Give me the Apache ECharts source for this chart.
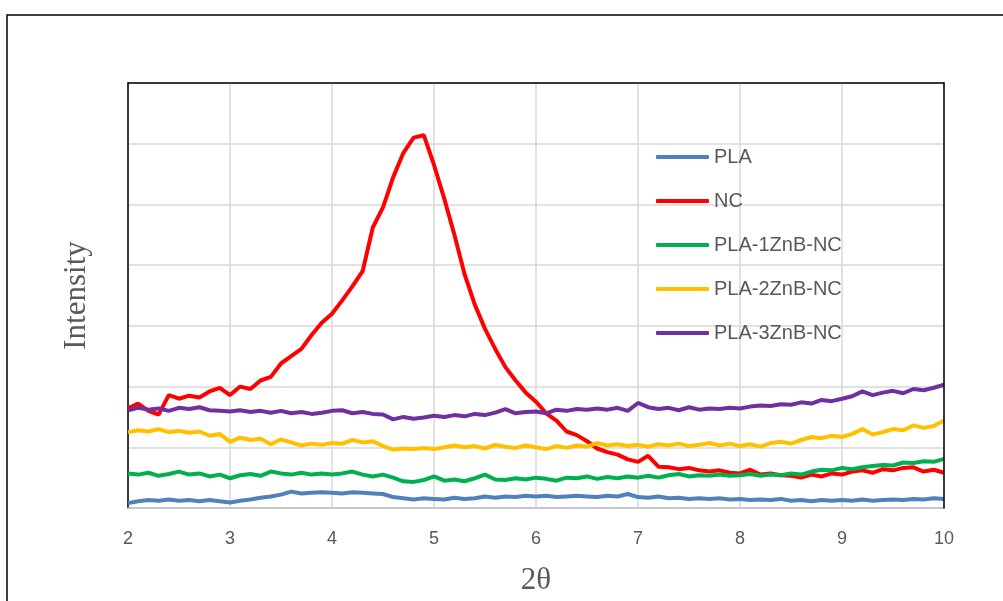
<!DOCTYPE html>
<html>
<head>
<meta charset="utf-8">
<script src="https://cdn.jsdelivr.net/npm/echarts@6/dist/echarts.min.js"></script>
<style>
  html, body { margin: 0; padding: 0; background: #fff; }
  #chart { width: 1003px; height: 601px; }
</style>
</head>
<body>
<div id="chart"></div>
<script>
// sampling grid for 2θ (2.0 .. 10.0, step 0.1)
const twoTheta = Array.from({ length: 81 }, (_, i) => +(2 + i * 0.1).toFixed(1));

const xTicks = [2, 3, 4, 5, 6, 7, 8, 9, 10];
const seriesNames = ['PLA', 'NC', 'PLA-1ZnB-NC', 'PLA-2ZnB-NC', 'PLA-3ZnB-NC'];
const seriesColors = ['#4f81bd', '#ff0000', '#00b050', '#ffc000', '#7030a0'];

// intensities (grid units)
const pla = [
  0.08, 0.11, 0.13, 0.12, 0.14, 0.12, 0.13, 0.11, 0.13, 0.11,
  0.09, 0.12, 0.14, 0.17, 0.19, 0.22, 0.27, 0.24, 0.25, 0.26,
  0.25, 0.24, 0.26, 0.25, 0.24, 0.23, 0.18, 0.16, 0.14, 0.16,
  0.15, 0.14, 0.17, 0.15, 0.16, 0.19, 0.17, 0.19, 0.18, 0.20,
  0.19, 0.20, 0.18, 0.19, 0.20, 0.19, 0.18, 0.20, 0.19, 0.23,
  0.18, 0.17, 0.19, 0.16, 0.17, 0.15, 0.16, 0.15, 0.16, 0.14,
  0.15, 0.13, 0.14, 0.13, 0.15, 0.12, 0.13, 0.11, 0.13, 0.12,
  0.13, 0.12, 0.14, 0.12, 0.13, 0.14, 0.13, 0.15, 0.14, 0.16,
  0.15
];
const nc = [
  1.64, 1.72, 1.60, 1.54, 1.86, 1.80, 1.85, 1.82, 1.92, 1.98,
  1.86, 2.00, 1.96, 2.10, 2.16, 2.38, 2.50, 2.62, 2.85, 3.05,
  3.20, 3.42, 3.65, 3.90, 4.62, 4.95, 5.45, 5.85, 6.10, 6.14,
  5.65, 5.10, 4.50, 3.85, 3.35, 2.95, 2.62, 2.32, 2.10, 1.90,
  1.75, 1.56, 1.44, 1.26, 1.20, 1.10, 0.98, 0.92, 0.88, 0.80,
  0.76, 0.86, 0.68, 0.67, 0.64, 0.66, 0.62, 0.60, 0.62, 0.58,
  0.57, 0.63, 0.55, 0.57, 0.54, 0.53, 0.50, 0.55, 0.52, 0.57,
  0.55, 0.60, 0.62, 0.58, 0.64, 0.62, 0.66, 0.67, 0.60, 0.63,
  0.58
];
const pla1 = [
  0.57, 0.55, 0.58, 0.53, 0.56, 0.60, 0.55, 0.57, 0.52, 0.55,
  0.49, 0.54, 0.56, 0.53, 0.60, 0.57, 0.55, 0.58, 0.55, 0.57,
  0.55, 0.57, 0.60, 0.55, 0.52, 0.55, 0.50, 0.44, 0.43, 0.46,
  0.52, 0.45, 0.47, 0.44, 0.49, 0.55, 0.47, 0.46, 0.49, 0.47,
  0.50, 0.48, 0.45, 0.50, 0.49, 0.52, 0.48, 0.51, 0.49, 0.52,
  0.50, 0.53, 0.50, 0.54, 0.56, 0.52, 0.54, 0.53, 0.55, 0.53,
  0.54, 0.56, 0.53, 0.55, 0.54, 0.57, 0.55, 0.60, 0.63, 0.62,
  0.66, 0.64, 0.67, 0.69, 0.71, 0.70, 0.75, 0.74, 0.77, 0.76,
  0.81
];
const pla2 = [
  1.25, 1.28, 1.26, 1.30, 1.25, 1.27, 1.24, 1.26, 1.19, 1.22,
  1.09, 1.16, 1.12, 1.14, 1.05, 1.13, 1.08, 1.03, 1.06, 1.04,
  1.07, 1.06, 1.12, 1.08, 1.10, 1.02, 0.96, 0.98, 0.97, 0.99,
  0.97, 1.00, 1.03, 1.00, 1.02, 0.98, 1.04, 1.01, 0.99, 1.03,
  1.00, 0.97, 1.02, 0.99, 1.03, 1.01, 1.07, 1.03, 1.05, 1.02,
  1.04, 1.01, 1.05, 1.03, 1.06, 1.02, 1.04, 1.07, 1.03, 1.06,
  1.02, 1.05, 1.01, 1.07, 1.09, 1.06, 1.12, 1.17, 1.15, 1.19,
  1.17, 1.22, 1.30, 1.21, 1.25, 1.30, 1.28, 1.36, 1.32, 1.35,
  1.44
];
const pla3 = [
  1.61, 1.65, 1.62, 1.64, 1.60, 1.65, 1.63, 1.66, 1.61, 1.60,
  1.59, 1.61, 1.58, 1.60, 1.57, 1.60, 1.56, 1.58, 1.55, 1.57,
  1.60, 1.61, 1.56, 1.58, 1.55, 1.54, 1.46, 1.50, 1.47, 1.49,
  1.52, 1.50, 1.53, 1.51, 1.55, 1.53, 1.57, 1.63, 1.56, 1.58,
  1.59, 1.56, 1.62, 1.60, 1.63, 1.62, 1.64, 1.62, 1.65, 1.60,
  1.73, 1.66, 1.63, 1.65, 1.61, 1.66, 1.62, 1.64, 1.63, 1.65,
  1.64, 1.67, 1.69, 1.68, 1.71, 1.70, 1.74, 1.72, 1.78, 1.76,
  1.80, 1.84, 1.92, 1.86, 1.90, 1.93, 1.89, 1.96, 1.94, 1.98,
  2.03
];

const seriesValues = [pla, nc, pla1, pla2, pla3];

const chart = echarts.init(document.getElementById('chart'));

// frame axes: black top and right edges of the plot area
const frameAxis = {
  type: 'value',
  min: 0,
  max: 1,
  axisLine: { show: true, onZero: false, lineStyle: { color: '#000', width: 1.5 } },
  axisTick: { show: false },
  axisLabel: { show: false },
  splitLine: { show: false },
};

chart.setOption({
  animation: false,
  backgroundColor: '#ffffff',
  graphic: [
    {
      type: 'rect',
      shape: { x: 7, y: 15, width: 1020, height: 620 },
      style: { fill: 'none', stroke: '#000', lineWidth: 1.5 },
      silent: true,
    },
  ],
  grid: {
    left: 128,
    top: 83,
    width: 816,
    height: 425,
    show: false,
  },
  legend: {
    orient: 'vertical',
    left: 651,
    top: 142,
    itemWidth: 53,
    itemHeight: 4,
    itemGap: 24,
    icon: 'roundRect',
    data: seriesNames,
    textStyle: {
      color: '#595959',
      fontSize: 20,
      lineHeight: 20,
      fontFamily: 'Liberation Sans, Arial, sans-serif',
    },
  },
  xAxis: [
    {
      type: 'value',
      min: 2,
      max: 10,
      interval: 1,
      name: '2θ',
      nameLocation: 'middle',
      nameGap: 57,
      nameTextStyle: {
        color: '#595959',
        fontSize: 31,
        fontFamily: 'Liberation Serif, Times New Roman, serif',
      },
      axisLine: { show: true, onZero: false, lineStyle: { color: '#bfbfbf', width: 1.5 } },
      axisTick: { show: false },
      axisLabel: {
        color: '#595959',
        fontSize: 18,
        margin: 22,
        fontFamily: 'Liberation Sans, Arial, sans-serif',
        formatter: (v) => (xTicks.includes(v) ? String(v) : ''),
      },
      splitLine: { show: true, lineStyle: { color: '#d9d9d9', width: 1.5 } },
    },
    Object.assign({ position: 'top', z: 4 }, frameAxis),
  ],
  yAxis: [
    {
      type: 'value',
      min: 0,
      max: 7,
      interval: 1,
      name: 'Intensity',
      nameLocation: 'middle',
      nameGap: 36,
      nameRotate: 90,
      nameTextStyle: {
        color: '#595959',
        fontSize: 31,
        fontFamily: 'Liberation Serif, Times New Roman, serif',
      },
      axisLine: { show: true, onZero: false, lineStyle: { color: '#000', width: 1.5 } },
      axisTick: { show: false },
      axisLabel: { show: false },
      splitLine: { show: true, lineStyle: { color: '#d9d9d9', width: 1.5 } },
    },
    Object.assign({ position: 'right', z: 4 }, frameAxis),
  ],
  series: seriesNames.map((name, i) => ({
    name,
    type: 'line',
    symbol: 'none',
    color: seriesColors[i],
    lineStyle: { width: 4, color: seriesColors[i] },
    data: twoTheta.map((x, j) => [x, seriesValues[i][j]]),
  })),
});
</script>
</body>
</html>
